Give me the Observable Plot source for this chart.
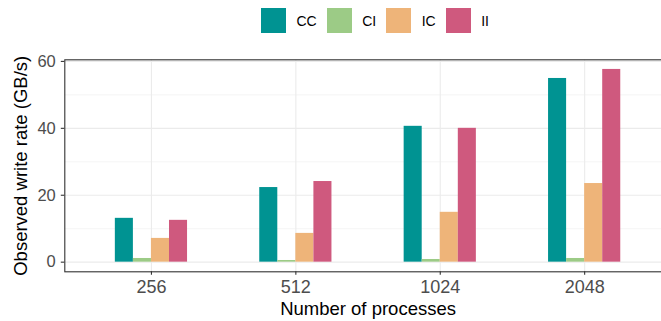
<!DOCTYPE html>
<html>
<head>
<meta charset="utf-8">
<script src="https://cdn.jsdelivr.net/npm/d3@7"></script>
<script src="https://cdn.jsdelivr.net/npm/@observablehq/plot@0.6"></script>
<style>
  html, body { margin: 0; padding: 0; background: white; overflow: hidden; }
  #wrap { position: relative; width: 661px; height: 321px; overflow: hidden; font-family: "Liberation Sans", Arial, sans-serif; }
  #legend { position: absolute; top: 8px; left: 261px; display: flex; align-items: center; }
  .key { width: 25px; height: 25px; }
  .lab { font-family: "Liberation Sans", Arial, sans-serif; font-size: 14px; color: #000; margin-left: 10.5px; margin-right: 10px; }
</style>
</head>
<body>
<div id="wrap"><div id="chart"></div><div id="legend"></div></div>
<script>
const processes = ["256", "512", "1024", "2048"];
const types = ["CC", "CI", "IC", "II"];
const CC = [13.1, 22.3, 40.6, 54.9];
const CI = [1.1, 0.5, 0.8, 1.1];
const IC = [7.1, 8.6, 14.9, 23.5];
const II = [12.5, 24.1, 40.0, 57.6];
const yTicks = [0, 20, 40, 60];
const yMinor = [10, 30, 50];
const colors = ["#009392", "#9ccb86", "#eeb479", "#cf597e"];
const yTitle = "Observed write rate (GB/s)";
const xTitle = "Number of processes";

const series = [CC, CI, IC, II];
const groupWidth = 0.5;
const barW = groupWidth / types.length;
const rows = [];
processes.forEach((p, i) => {
  types.forEach((t, k) => {
    const x1 = (i + 1) - groupWidth / 2 + barW * k;
    rows.push({proc: p, type: t, value: series[k][i], x1, x2: x1 + barW});
  });
});
const xPos = processes.map((_, i) => i + 1);
const yMax = d3.max(series.flat());
const pad = yMax * 0.05;

const chart = Plot.plot({
  width: 661,
  height: 321,
  marginLeft: 64.3,
  marginRight: -9.8,
  marginTop: 59.3,
  marginBottom: 49.7,
  style: {fontFamily: "'Liberation Sans', Arial, sans-serif", background: "white"},
  x: {domain: [0.4, processes.length + 0.6], axis: null},
  y: {domain: [-pad, yMax + pad], axis: null},
  color: {domain: types, range: colors},
  marks: [
    Plot.gridY(yMinor, {stroke: "#ebebeb", strokeOpacity: 1, strokeWidth: 0.55}),
    Plot.gridY(yTicks, {stroke: "#ebebeb", strokeOpacity: 1, strokeWidth: 1.1}),
    Plot.gridX(xPos, {stroke: "#ebebeb", strokeOpacity: 1, strokeWidth: 1.1}),
    Plot.rectY(rows, {x1: "x1", x2: "x2", y1: 0, y2: "value", fill: "type"}),
    Plot.frame({stroke: "#333333", strokeWidth: 1.1}),
    Plot.axisY(yTicks, {tickSize: 3.5, tickPadding: 5.5, fontSize: 16.5, stroke: "#333333", fill: "#4d4d4d", label: null, strokeWidth: 1.1}),
    Plot.axisX(xPos, {tickSize: 3.5, tickPadding: 5, fontSize: 18, stroke: "#333333", fill: "#4d4d4d", label: null, strokeWidth: 1.1, tickFormat: d => processes[d - 1]}),
    Plot.text([yTitle], {frameAnchor: "left", textAnchor: "middle", lineAnchor: "middle", dx: -43.3, rotate: -90, fontSize: 18.5, fill: "black", text: d => d}),
    Plot.text([xTitle], {frameAnchor: "bottom", dy: 37, lineAnchor: "middle", fontSize: 18.5, fill: "black", text: d => d})
  ]
});
document.getElementById("chart").appendChild(chart);

const legend = document.getElementById("legend");
types.forEach((t, k) => {
  const key = document.createElement("div");
  key.className = "key";
  key.style.background = colors[k];
  const lab = document.createElement("div");
  lab.className = "lab";
  lab.textContent = t;
  legend.appendChild(key);
  legend.appendChild(lab);
});
</script>
</body>
</html>
